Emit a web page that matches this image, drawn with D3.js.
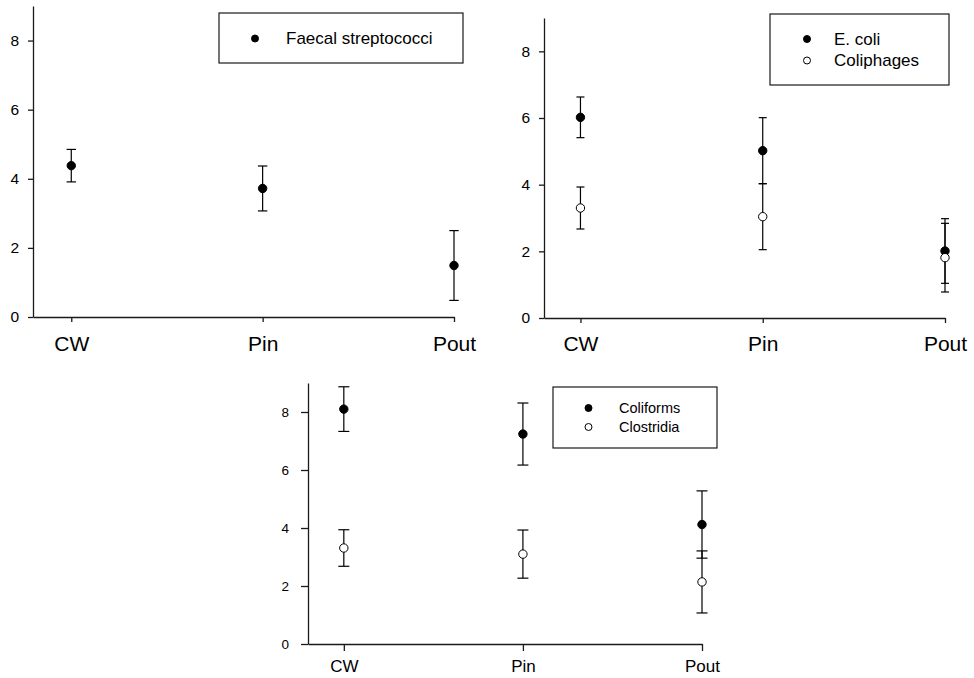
<!DOCTYPE html>
<html>
<head>
<meta charset="utf-8">
<script src="https://cdn.jsdelivr.net/npm/d3@7"></script>
<style>
  body { margin: 0; background: #fff; }
  text { font-family: "Liberation Sans", Arial, sans-serif; fill: #000; }
</style>
</head>
<body>
<script>
const width = 974
const height = 678

const categories = ['CW', 'Pin', 'Pout']
const yTicks = [0, 2, 4, 6, 8]

const faecalMean = [4.38, 3.72, 1.49]
const faecalErr = [0.47, 0.65, 1.01]

const ecoliMean = [6.02, 5.02, 2.01]
const ecoliErr = [0.61, 0.99, 0.97]
const coliphageMean = [3.3, 3.04, 1.81]
const coliphageErr = [0.63, 0.99, 1.03]

const coliformMean = [8.1, 7.24, 4.12]
const coliformErr = [0.77, 1.07, 1.16]
const clostridiaMean = [3.31, 3.1, 2.14]
const clostridiaErr = [0.63, 0.83, 1.07]

const svg = d3.select('body')
	.append('svg')
	.attr('width', width)
	.attr('height', height)

const panels = [
	{
		left: 33, right: 454, top: 6, bottom: 317,
		yFont: 15.5, xFont: 21, yPad: 9, xPad: 14, tick: 5, cap: 4.7,
		legend: { x: 219, y: 13, w: 244, h: 50, font: 17, mx: 255, tx: 286, y0: 38.5, dy: 21 },
		series: [{ name: 'Faecal streptococci', mean: faecalMean, err: faecalErr, filled: true }]
	},
	{
		left: 544, right: 945, top: 18, bottom: 318,
		yFont: 15.5, xFont: 21, yPad: 9, xPad: 13, tick: 5, cap: 4,
		legend: { x: 770, y: 14, w: 179, h: 71, font: 17, mx: 807, tx: 834, y0: 39, dy: 21.5 },
		series: [
			{ name: 'E. coli', mean: ecoliMean, err: ecoliErr, filled: true },
			{ name: 'Coliphages', mean: coliphageMean, err: coliphageErr, filled: false }
		]
	},
	{
		left: 308, right: 702, top: 383, bottom: 644,
		yFont: 13.5, xFont: 17, yPad: 12, xPad: 9, tick: 7, cap: 5.5,
		legend: { x: 553, y: 387, w: 164, h: 61, font: 14.5, mx: 588.5, tx: 619, y0: 408, dy: 19 },
		series: [
			{ name: 'Coliforms', mean: coliformMean, err: coliformErr, filled: true },
			{ name: 'Clostridia', mean: clostridiaMean, err: clostridiaErr, filled: false }
		]
	}
]

panels.forEach(p => {
	const x = d3.scaleLinear()
		.domain([-0.2, 2])
		.range([p.left, p.right])

	const y = d3.scaleLinear()
		.domain([0, 9])
		.range([p.bottom, p.top])

	const g = svg.append('g')

	// axes
	const yAxis = d3.axisLeft(y)
		.tickValues(yTicks)
		.tickSizeInner(p.tick)
		.tickSizeOuter(0)
		.tickPadding(p.yPad)

	const xAxis = d3.axisBottom(x)
		.tickValues([0, 1, 2])
		.tickFormat(i => categories[i])
		.tickSizeInner(p.tick)
		.tickSizeOuter(0)
		.tickPadding(p.xPad)

	const ya = g.append('g')
		.attr('transform', `translate(${p.left},0)`)
		.call(yAxis)
	ya.selectAll('text').style('font-size', p.yFont + 'px')

	const xa = g.append('g')
		.attr('transform', `translate(0,${p.bottom})`)
		.call(xAxis)
	xa.selectAll('text').style('font-size', p.xFont + 'px')

	g.selectAll('.domain, .tick line')
		.attr('stroke', '#1a1a1a')
		.attr('stroke-width', 1.3)

	// error bars + points
	p.series.forEach(s => {
		const bars = g.append('g')
			.selectAll('g')
			.data(s.mean.map((m, i) => ({ i, m, e: s.err[i] })))
			.enter()
			.append('g')
			.attr('stroke', '#000')
			.attr('stroke-width', 1.2)

		bars.append('line')
			.attr('x1', d => x(d.i))
			.attr('x2', d => x(d.i))
			.attr('y1', d => y(d.m - d.e))
			.attr('y2', d => y(d.m + d.e))

		bars.append('line')
			.attr('x1', d => x(d.i) - p.cap)
			.attr('x2', d => x(d.i) + p.cap)
			.attr('y1', d => y(d.m + d.e))
			.attr('y2', d => y(d.m + d.e))

		bars.append('line')
			.attr('x1', d => x(d.i) - p.cap)
			.attr('x2', d => x(d.i) + p.cap)
			.attr('y1', d => y(d.m - d.e))
			.attr('y2', d => y(d.m - d.e))
	})

	p.series.forEach(s => {
		g.append('g')
			.selectAll('circle')
			.data(s.mean)
			.enter()
			.append('circle')
			.attr('cx', (d, i) => x(i))
			.attr('cy', d => y(d))
			.attr('r', 4.2)
			.attr('fill', s.filled ? '#000' : '#fff')
			.attr('stroke', '#000')
			.attr('stroke-width', 1)
	})

	// legend
	const L = p.legend
	g.append('rect')
		.attr('x', L.x)
		.attr('y', L.y)
		.attr('width', L.w)
		.attr('height', L.h)
		.attr('fill', '#fff')
		.attr('stroke', '#1a1a1a')
		.attr('stroke-width', 1.2)

	const items = g.append('g')
		.selectAll('g')
		.data(p.series)
		.enter()
		.append('g')
		.attr('transform', (d, i) => `translate(0,${L.y0 + i * L.dy})`)

	items.append('circle')
		.attr('cx', L.mx)
		.attr('cy', 0)
		.attr('r', 3.5)
		.attr('fill', d => d.filled ? '#000' : '#fff')
		.attr('stroke', '#000')
		.attr('stroke-width', 1)

	items.append('text')
		.attr('x', L.tx)
		.attr('dy', '0.35em')
		.style('font-size', L.font + 'px')
		.text(d => d.name)
})
</script>
</body>
</html>
